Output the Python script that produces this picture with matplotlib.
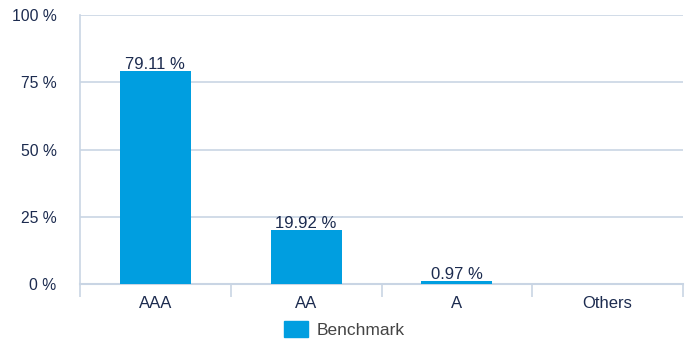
import matplotlib.pyplot as plt
from matplotlib.patches import Patch

# Rating breakdown data
categories = ['AAA', 'AA', 'A', 'Others']
values = [79.11, 19.92, 0.97, 0.0]
labels = ['79.11 %', '19.92 %', '0.97 %', '']
yticks = [0, 25, 50, 75, 100]

bar_color = '#009ee0'
grid_color = '#c9d5e4'
text_color = '#1c2b4f'

plt.rcParams['font.family'] = ['Liberation Sans', 'DejaVu Sans']

fig = plt.figure(figsize=(6.93, 3.4), dpi=100)
ax = fig.add_axes([80 / 693, 1 - 284 / 340, 603 / 693, 269 / 340])

x = list(range(len(categories)))
bars = ax.bar(x, values, width=0.47, color=bar_color, zorder=3)

for xi, v, lab in zip(x, values, labels):
    if lab:
        ax.text(xi, v - 0.3, lab, ha='center', va='bottom', fontsize=12,
                color=text_color, zorder=4)

ax.set_xlim(-0.5, len(categories) - 0.5)
ax.set_ylim(0, 100)
ax.set_yticks(yticks)
ax.set_yticklabels([f'{t} %' for t in yticks])
ax.grid(axis='y', color=grid_color, linewidth=1.2, zorder=0)

ax.set_xticks(x)
ax.set_xticklabels(categories)
ax.tick_params(axis='x', which='major', length=0, pad=9, labelsize=12, labelcolor=text_color)
ax.set_xticks([i - 0.5 for i in range(len(categories) + 1)], minor=True)
ax.tick_params(axis='x', which='minor', length=9.5, width=1.2, color=grid_color)
ax.tick_params(axis='y', length=0, pad=17, labelsize=11.3, labelcolor=text_color)

for s in ['top', 'right']:
    ax.spines[s].set_visible(False)
ax.spines['left'].set_color(grid_color)
ax.spines['left'].set_linewidth(1.2)
ax.spines['bottom'].set_color(grid_color)
ax.spines['bottom'].set_linewidth(1.5)

fig.legend(handles=[Patch(color=bar_color, label='Benchmark')], loc='lower center',
           bbox_to_anchor=(0.497, -0.04), frameon=False, fontsize=12.5,
           handlelength=1.35, handleheight=1.1, handletextpad=0.5,
           labelcolor='#444444')

fig.savefig('out.png', dpi=100)
